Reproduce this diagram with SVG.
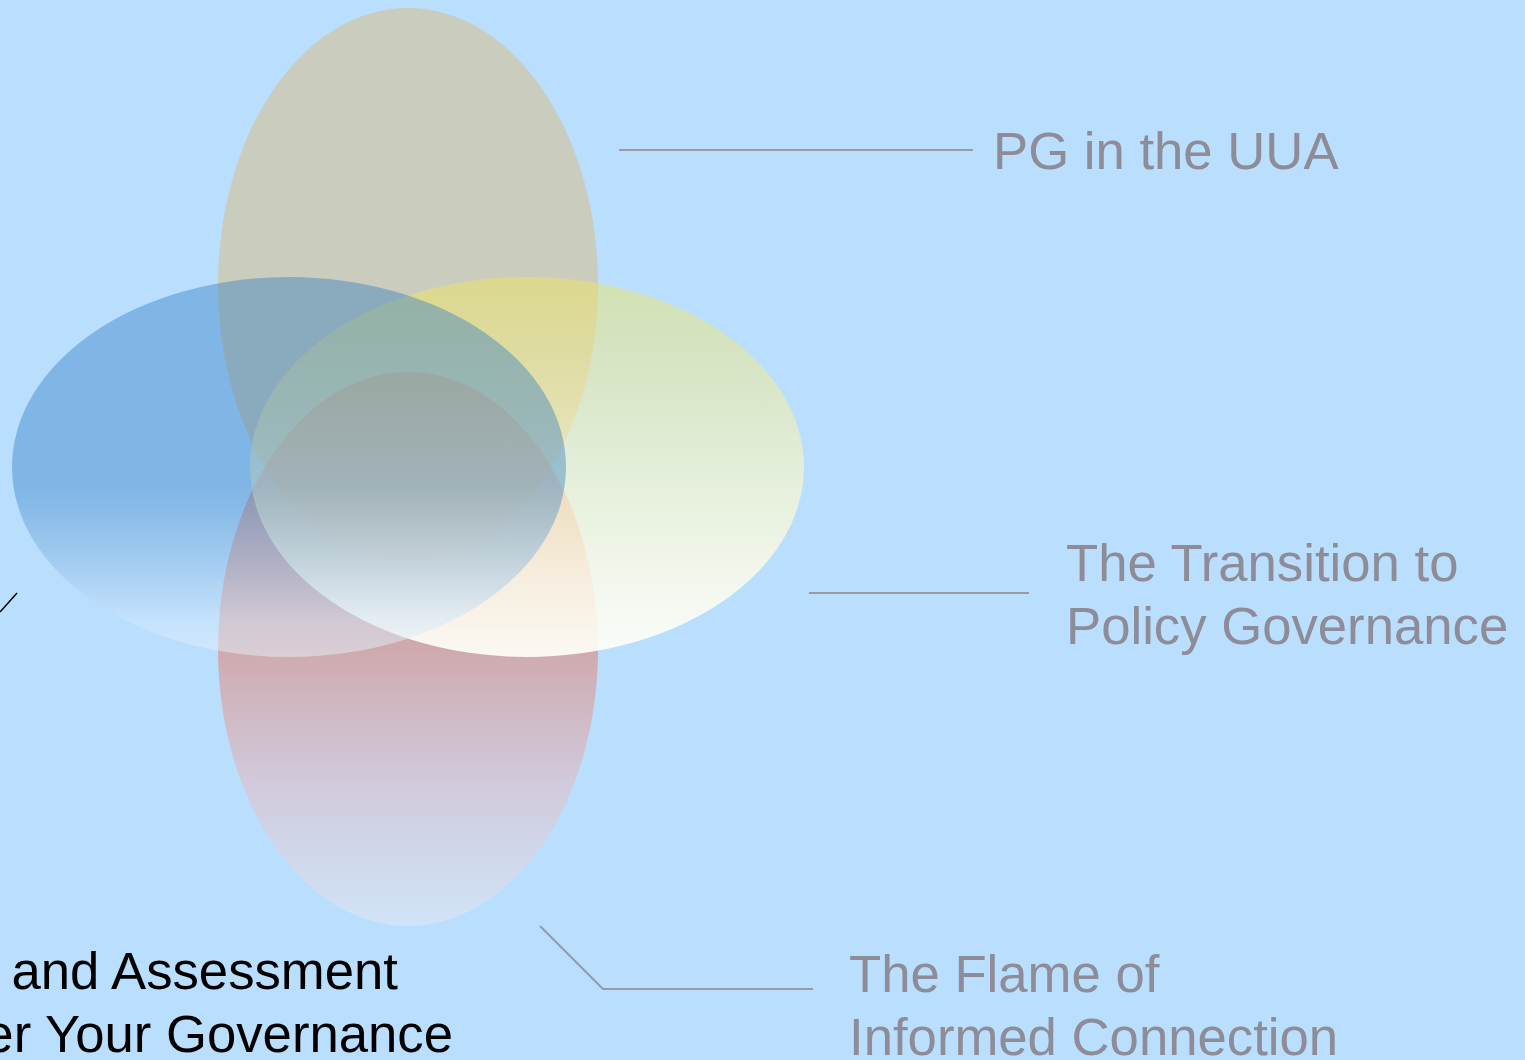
<svg xmlns="http://www.w3.org/2000/svg" width="1525" height="1060" viewBox="0 0 1525 1060">
<defs>
<style>
.lbl{font-family:"Liberation Sans",Arial,sans-serif;font-size:52.7px;fill:#8E8C96}
.lblk{font-family:"Liberation Sans",Arial,sans-serif;font-size:52.7px;fill:#000}
.conn{fill:none;stroke:#9A9AA0;stroke-width:2}
</style>
<linearGradient id="gTop" x1="0" y1="0" x2="0" y2="1">
<stop offset="0" stop-color="#DBBC7E" stop-opacity="0.5"/>
<stop offset="1" stop-color="#DBBC7E" stop-opacity="0.5"/>
</linearGradient>
<linearGradient id="gBlue" x1="0" y1="0" x2="0" y2="1">
<stop offset="0" stop-color="#2A78C0" stop-opacity="0.4"/>
<stop offset="0.55" stop-color="#2A78C0" stop-opacity="0.4"/>
<stop offset="0.9" stop-color="#D0E6FA" stop-opacity="0.5"/>
<stop offset="1" stop-color="#E8F2FC" stop-opacity="0.5"/>
</linearGradient>
<linearGradient id="gPink" x1="0" y1="0" x2="0" y2="1">
<stop offset="0" stop-color="#E5765C" stop-opacity="0.5"/>
<stop offset="0.5" stop-color="#E5765C" stop-opacity="0.5"/>
<stop offset="0.75" stop-color="#E8B8BC" stop-opacity="0.5"/>
<stop offset="1" stop-color="#E8E8F2" stop-opacity="0.5"/>
</linearGradient>
<linearGradient id="gRight" x1="0" y1="0" x2="0" y2="1">
<stop offset="0" stop-color="#F0E655" stop-opacity="0.45"/>
<stop offset="0.22" stop-color="#F3EA8A" stop-opacity="0.5"/>
<stop offset="0.5" stop-color="#FFF9C2" stop-opacity="0.6"/>
<stop offset="0.8" stop-color="#FFFDEA" stop-opacity="0.82"/>
<stop offset="1" stop-color="#FFFFFA" stop-opacity="0.92"/>
</linearGradient>
</defs>
<rect x="0" y="0" width="1525" height="1060" fill="#B9DEFE"/>
<g id="node-top"><ellipse cx="408" cy="285" rx="190" ry="277" fill="url(#gTop)"/></g>
<g id="node-bottom"><ellipse cx="408" cy="649" rx="190" ry="277" fill="url(#gPink)"/></g>
<g id="node-right"><ellipse cx="527" cy="467" rx="277" ry="190" fill="url(#gRight)"/></g>
<g id="node-left"><ellipse cx="289" cy="467" rx="277" ry="190" fill="url(#gBlue)"/></g>
<g id="connectors">
<polyline class="conn" points="619,150 973,150"/>
<polyline class="conn" points="809,593 1029,593"/>
<polyline class="conn" points="540,926 603,989 813,989"/>
<line x1="0" y1="612" x2="17" y2="593" stroke="#000" stroke-width="1.5"/>
</g>
<g id="label-top"><text class="lbl" x="993" y="169">PG in the UUA</text></g>
<g id="label-right"><text class="lbl" x="1066" y="581">The Transition to</text><text class="lbl" x="1066" y="644">Policy Governance</text></g>
<g id="label-bottom"><text class="lbl" x="849" y="992">The Flame of</text><text class="lbl" x="849" y="1055">Informed Connection</text></g>
<g id="label-left"><text class="lblk" x="398" y="989" text-anchor="end">and Assessment</text><text class="lblk" x="453" y="1052" text-anchor="end">er Your Governance</text></g>
</svg>
